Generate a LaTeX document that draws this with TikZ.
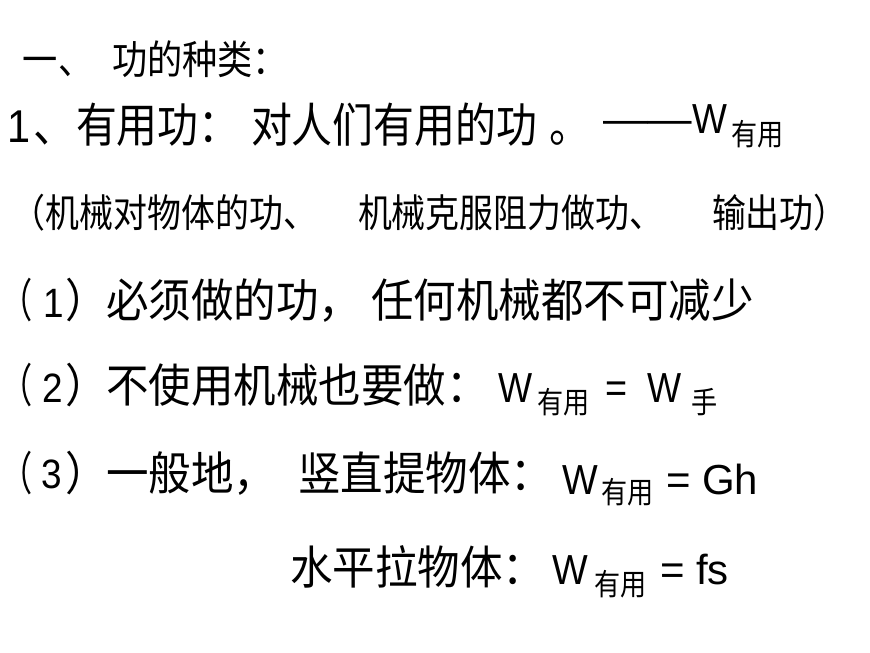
\documentclass[tikz,border=0pt]{standalone}
\usepackage{fontspec}
\usepackage{graphicx}
\setmainfont{Noto Sans CJK SC}
\newfontfamily\lat{Liberation Sans}
\newcommand{\mytxt}[3]{\scalebox{#2}[1]{\fontsize{#1}{#1}\selectfont #3}}
\tikzset{seg/.style={anchor=base west, inner sep=0pt, outer sep=0pt}}
\begin{document}
\begin{tikzpicture}[x=1pt,y=-1pt]
\useasboundingbox[fill=white] (0,0) rectangle (870,653);
% line 1
\node[seg] (l1a) at (23,74) {\mytxt{40pt}{0.88}{一、}};
\node[seg] (l1b) at (112,74) {\mytxt{40pt}{0.88}{功的种类：}};
% line 2
\node[seg] (l2a) at (7,142) {\mytxt{46pt}{0.9}{{\lat 1}\kern4pt{\fontsize{47pt}{47pt}\selectfont 、}}};
\node[seg] (l2b) at (76,142) {\mytxt{47pt}{0.87}{有用功：}};
\node[seg] (l2c) at (251,142) {\mytxt{47pt}{0.87}{对人们有用的功\kern14pt 。}};
\node[seg] (l2d) at (603,133) {\mytxt{42pt}{1.06}{\lat ——}};
\node[seg] (l2e) at (692,133) {\mytxt{42pt}{0.88}{\lat W}};
\node[seg] (l2f) at (731,145) {\mytxt{30pt}{0.87}{有用}};
% line 3
\node[seg] (l3a) at (12,227) {\mytxt{39pt}{0.87}{（机械对物体的功、}};
\node[seg] (l3b) at (358,227) {\mytxt{39pt}{0.87}{机械克服阻力做功、}};
\node[seg] (l3c) at (712,227) {\mytxt{39pt}{0.87}{输出功）}};
% line 4
\node[seg] (l4p) at (0,317) {\mytxt{46pt}{0.7}{（}};
\node[seg] (l4n) at (43,317) {\mytxt{41pt}{0.9}{\lat 1}};
\node[seg] (l4q) at (65,317) {\mytxt{46pt}{0.924}{）}};
\node[seg] (l4b) at (106,317) {\mytxt{46pt}{0.924}{必须做的功，}};
\node[seg] (l4c) at (371,317) {\mytxt{46pt}{0.924}{任何机械都不可减少}};
% line 5
\node[seg] (l5p) at (0,402) {\mytxt{46pt}{0.7}{（}};
\node[seg] (l5n) at (42,402) {\mytxt{41pt}{0.9}{\lat 2}};
\node[seg] (l5q) at (65,402) {\mytxt{46pt}{0.924}{）}};
\node[seg] (l5b) at (106,402) {\mytxt{46pt}{0.924}{不使用机械也要做：}};
\node[seg] (l5w) at (498,402) {\mytxt{42pt}{0.86}{\lat W}};
\node[seg] (l5s) at (537,413) {\mytxt{30pt}{0.87}{有用}};
\node[seg] (l5e) at (605,402) {\mytxt{42pt}{0.9}{\lat =}};
\node[seg] (l5v) at (647,402) {\mytxt{42pt}{0.86}{\lat W}};
\node[seg] (l5t) at (691,413) {\mytxt{30pt}{0.87}{手}};
% line 6
\node[seg] (l6p) at (0,490) {\mytxt{46pt}{0.7}{（}};
\node[seg] (l6n) at (41.5,488) {\mytxt{41pt}{0.9}{\lat 3}};
\node[seg] (l6q) at (65,490) {\mytxt{46pt}{0.924}{）}};
\node[seg] (l6b) at (106,490) {\mytxt{46pt}{0.924}{一般地，}};
\node[seg] (l6c) at (298,490) {\mytxt{46pt}{0.924}{竖直提物体：}};
\node[seg] (l6w) at (562,494) {\mytxt{42pt}{0.9}{\lat W}};
\node[seg] (l6s) at (601,503) {\mytxt{30pt}{0.87}{有用}};
\node[seg] (l6e) at (666,494) {\mytxt{42pt}{1.0}{\lat = Gh}};
% line 7
\node[seg] (l7c) at (290,584) {\mytxt{46pt}{0.924}{水平拉物体：}};
\node[seg] (l7w) at (552,584) {\mytxt{42pt}{0.9}{\lat W}};
\node[seg] (l7s) at (594,595) {\mytxt{30pt}{0.87}{有用}};
\node[seg] (l7e) at (660,584) {\mytxt{42pt}{1.0}{\lat = fs}};
\end{tikzpicture}
\end{document}
